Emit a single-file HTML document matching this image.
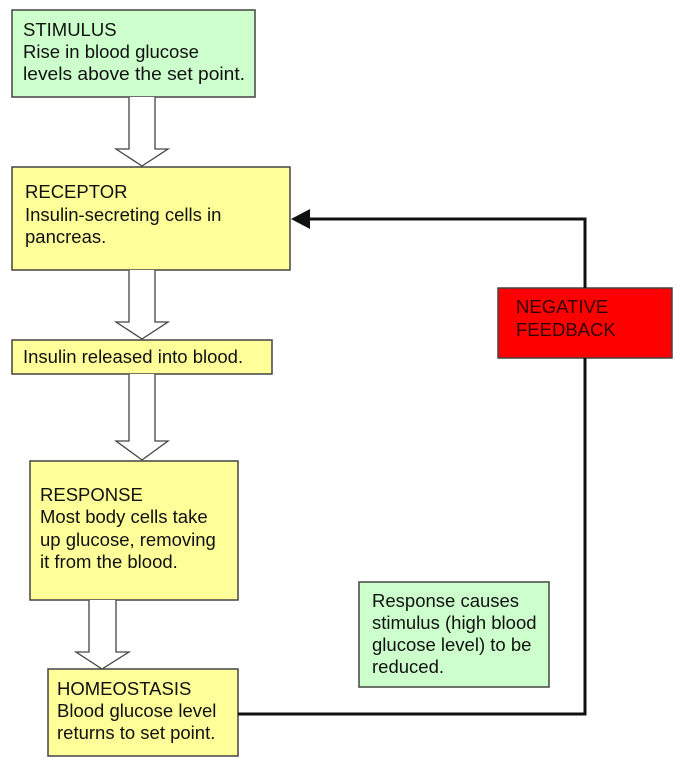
<!DOCTYPE html>
<html><head><style>html,body{margin:0;padding:0;background:#fff;}svg{display:block}</style></head>
<body>
<svg width="682" height="764" viewBox="0 0 682 764" xmlns="http://www.w3.org/2000/svg" font-family="Liberation Sans, sans-serif" font-size="18.5" fill="#111">
<g stroke="#444" stroke-width="1.5">
<rect x="12" y="10" width="243" height="87" fill="#ccffcc"/>
<rect x="12" y="167" width="278" height="103" fill="#ffff99"/>
<rect x="12" y="340" width="260" height="34" fill="#ffff99"/>
<rect x="30" y="461" width="208" height="139" fill="#ffff99"/>
<rect x="48" y="669" width="190" height="87" fill="#ffff99"/>
<rect x="359" y="582" width="190" height="105" fill="#ccffcc"/>
<rect x="498" y="288" width="174" height="70" fill="#ff0000"/>
</g>
<g stroke="#444" stroke-width="1.3" fill="#fff">
<path d="M129,97 V149 H116 L142,166 L168,149 H155 V97"/>
<path d="M129,270 V322 H116 L142,339 L168,322 H155 V270"/>
<path d="M129,374 V441 H116 L142,460 L168,441 H155 V374"/>
<path d="M89,600 V652 H76 L102,669 L129,652 H116 V600"/>
</g>
<g fill="none" stroke="#111" stroke-width="3">
<path d="M238,714 H585 V358"/>
<path d="M585,288 V219 H305"/>
</g>
<path d="M291,219 L310,209 V229 Z" fill="#111"/>
<g textLength="0">
<text x="23" y="36">STIMULUS</text>
<text x="23" y="58">Rise in blood glucose</text>
<text x="23" y="80" textLength="222" lengthAdjust="spacingAndGlyphs">levels above the set point.</text>
<text x="25" y="198">RECEPTOR</text>
<text x="25" y="221">Insulin-secreting cells in</text>
<text x="25" y="243">pancreas.</text>
<text x="23" y="363">Insulin released into blood.</text>
<text x="40" y="501">RESPONSE</text>
<text x="40" y="523">Most body cells take</text>
<text x="40" y="546">up glucose, removing</text>
<text x="40" y="568">it from the blood.</text>
<text x="57" y="695">HOMEOSTASIS</text>
<text x="57" y="717">Blood glucose level</text>
<text x="57" y="739">returns to set point.</text>
<text x="372" y="607">Response causes</text>
<text x="372" y="629">stimulus (high blood</text>
<text x="372" y="651">glucose level) to be</text>
<text x="372" y="673">reduced.</text>
<text x="516" y="313" fill="#300">NEGATIVE</text>
<text x="516" y="336" fill="#300">FEEDBACK</text>
</g>
</svg>
</body></html>
